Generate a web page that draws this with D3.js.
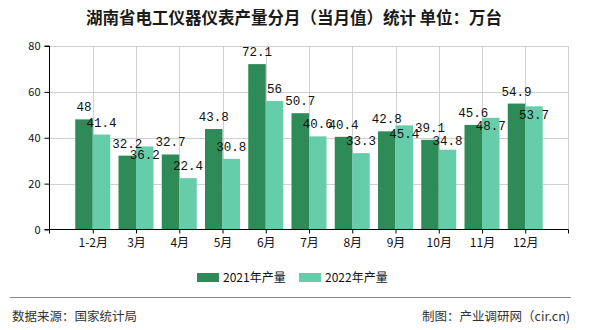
<!DOCTYPE html>
<html><head><meta charset="utf-8">
<script src="https://cdn.jsdelivr.net/npm/d3@7"></script>
<style>body{margin:0;background:#fff}svg{display:block}</style>
</head><body>
<svg id="c" width="590" height="330"></svg>
<script>
const categories = ["1-2月","3月","4月","5月","6月","7月","8月","9月","10月","11月","12月"];
const series2021 = [48, 32.2, 32.7, 43.8, 72.1, 50.7, 40.4, 42.8, 39.1, 45.6, 54.9];
const series2022 = [41.4, 36.2, 22.4, 30.8, 56, 40.6, 33.3, 45.4, 34.8, 48.7, 53.7];
const yTicks = [0, 20, 40, 60, 80];
const seriesNames = ["2021年产量", "2022年产量"];
const colors = ["#2E8B57", "#66CDAA"];

const svg = d3.select("#c");
const L = 49.5, R = 568.5, T = 46, B = 229.5;
const x = d3.scalePoint().domain(categories).range([L, R]).padding(1);
const y = d3.scaleLinear().domain([0, 80]).range([B, T]);
const bw = 17.5;
const sans = "'Noto Sans CJK SC','Noto Sans',sans-serif";
const mono = "'Liberation Mono','DejaVu Sans Mono',monospace";

svg.append("text").attr("x", 294).attr("y", 24).attr("text-anchor", "middle")
  .attr("font-family", sans).attr("font-size", 16.5).attr("font-weight", "bold").attr("fill", "#1a1a1a")
  .text("湖南省电工仪器仪表产量分月（当月值）统计 单位：万台");

// grid
const g = svg.append("g");
g.selectAll(".hg").data(yTicks.filter(d => d > 0)).enter().append("line")
  .attr("x1", L).attr("x2", R).attr("y1", d => Math.round(y(d)) + 0.5).attr("y2", d => Math.round(y(d)) + 0.5)
  .attr("stroke", "#d0d0d0");
g.selectAll(".vg").data(categories).enter().append("line")
  .attr("x1", d => Math.round(x(d)) + 0.5).attr("x2", d => Math.round(x(d)) + 0.5)
  .attr("y1", T).attr("y2", B).attr("stroke", "#d0d0d0");
g.append("line").attr("x1", R).attr("x2", R).attr("y1", T).attr("y2", B).attr("stroke", "#d0d0d0");

// bars
const bars = svg.append("g");
bars.selectAll(".b1").data(series2021).enter().append("rect")
  .attr("x", (d, i) => x(categories[i]) - bw).attr("width", bw)
  .attr("y", d => y(d)).attr("height", d => B - y(d)).attr("fill", colors[0]);
bars.selectAll(".b2").data(series2022).enter().append("rect")
  .attr("x", (d, i) => x(categories[i])).attr("width", bw)
  .attr("y", d => y(d)).attr("height", d => B - y(d)).attr("fill", colors[1]);

// labels with simple overlap avoidance for the second series
const off = 8;
const darkY = series2021.map(v => y(v) - off);
const lightY = series2022.map((v, i) => {
  const nat = y(v) - off;
  const diff = nat - darkY[i];
  if (diff < 6) return y(v) + 12.5;         // move inside bar top
  if (diff < 13) return darkY[i] + 13;       // push just below
  return nat;
});
const lab = svg.append("g").attr("font-family", mono).attr("font-size", 12.5).attr("fill", "#111").attr("text-anchor", "middle");
lab.selectAll(".l1").data(series2021).enter().append("text")
  .attr("x", (d, i) => x(categories[i]) - bw / 2).attr("y", (d, i) => darkY[i]).text(d => d);
lab.selectAll(".l2").data(series2022).enter().append("text")
  .attr("x", (d, i) => x(categories[i]) + bw / 2).attr("y", (d, i) => lightY[i]).text(d => d);

// axes
const xa = svg.append("g").attr("transform", `translate(0,${B})`)
  .call(d3.axisBottom(x).tickSize(4).tickPadding(5));
xa.select(".domain").attr("d", `M${L},4V0H${R}V4`).attr("stroke", "#000");
xa.selectAll("text").attr("font-family", sans).attr("font-size", 12).attr("fill", "#111");
xa.selectAll(".tick line").attr("stroke", "#000");

const ya = svg.append("g").attr("transform", `translate(${L},0)`)
  .call(d3.axisLeft(y).tickValues(yTicks).tickSize(5).tickPadding(4));
ya.select(".domain").attr("d", `M-5,${T}H0V${B}H-5`).attr("stroke", "#000");
ya.selectAll("text").attr("font-family", sans).attr("font-size", 11).attr("fill", "#111");
ya.selectAll(".tick line").attr("stroke", "#000");

// legend
const lg = svg.append("g");
const lx = [197, 299];
seriesNames.forEach((n, i) => {
  lg.append("rect").attr("x", lx[i]).attr("y", 273).attr("width", 22).attr("height", 9).attr("fill", colors[i]);
  lg.append("text").attr("x", lx[i] + 26).attr("y", 281.5).attr("font-family", sans).attr("font-size", 12)
    .attr("fill", "#111").text(n);
});

// footer
svg.append("line").attr("x1", 10).attr("x2", 571).attr("y1", 297.5).attr("y2", 297.5).attr("stroke", "#888");
svg.append("text").attr("x", 12).attr("y", 320.5).attr("font-family", sans).attr("font-size", 12.5).attr("fill", "#333")
  .text("数据来源：国家统计局");
svg.append("text").attr("x", 570).attr("y", 320.5).attr("text-anchor", "end").attr("font-family", sans).attr("font-size", 12.5).attr("fill", "#333")
  .text("制图：产业调研网（cir.cn)");
</script>
</body></html>
